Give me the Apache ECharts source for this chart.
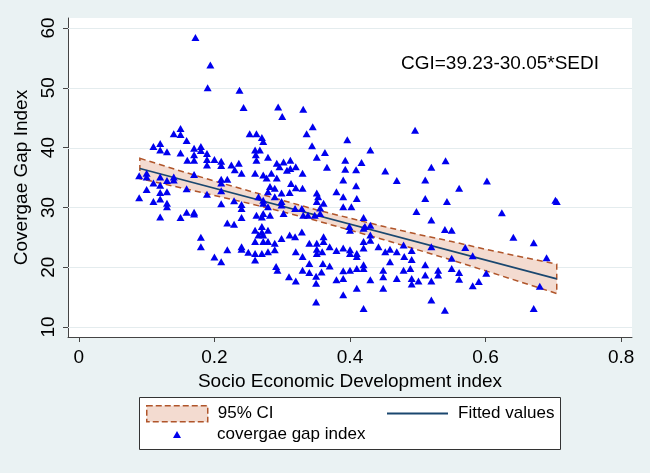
<!DOCTYPE html>
<html><head><meta charset="utf-8">
<script src="https://cdn.jsdelivr.net/npm/echarts@6/dist/echarts.min.js"></script>
<style>html,body{margin:0;padding:0;background:#eaf2f3}#c{width:650px;height:473px}</style>
</head><body><div id="c"></div><script>
// covergae gap index vs socio economic development index: [SEDI, CGI]
const gapPoints = [
[0.172,58.4],[0.194,53.8],[0.190,50.0],[0.237,49.6],[0.243,46.7],[0.150,43.2],[0.140,42.3],[0.150,42.2],[0.159,41.2],[0.110,40.2],
[0.120,40.7],[0.120,39.6],[0.130,39.3],[0.150,39.1],[0.170,39.9],[0.180,40.2],[0.180,39.5],[0.189,39.0],[0.170,38.8],[0.160,37.9],
[0.170,37.9],[0.189,38.0],[0.200,38.0],[0.210,37.7],[0.210,37.0],[0.189,37.1],[0.225,37.1],[0.236,37.4],[0.230,36.3],[0.240,35.7],
[0.170,35.5],[0.210,34.7],[0.219,34.7],[0.210,34.1],[0.210,32.8],[0.089,35.3],[0.100,35.7],[0.100,35.1],[0.140,35.1],[0.140,34.6],
[0.120,35.1],[0.130,34.5],[0.110,34.1],[0.120,33.7],[0.120,32.5],[0.120,31.4],[0.130,32.6],[0.100,33.0],[0.089,31.6],[0.159,33.1],
[0.110,31.0],[0.130,30.7],[0.130,30.1],[0.120,28.4],[0.150,28.3],[0.159,29.2],[0.170,29.2],[0.170,28.9],[0.180,25.0],[0.180,23.4],
[0.189,32.2],[0.200,21.7],[0.210,20.9],[0.210,30.6],[0.219,27.4],[0.219,22.9],[0.229,27.2],[0.229,31.1],[0.240,28.3],[0.240,29.8],
[0.240,30.5],[0.240,23.4],[0.240,23.0],[0.250,22.5],
[0.294,46.8],[0.300,45.2],[0.331,46.4],[0.345,43.5],[0.336,42.3],[0.496,42.9],[0.396,41.3],[0.344,40.3],[0.363,39.2],[0.430,39.6],
[0.351,38.4],[0.252,42.3],[0.262,42.3],[0.270,41.7],[0.272,41.0],[0.260,39.6],[0.267,39.6],[0.261,38.8],[0.279,38.4],[0.262,37.9],
[0.292,37.4],[0.302,37.6],[0.312,37.9],[0.296,36.8],[0.307,36.2],[0.312,36.5],[0.320,36.8],[0.260,35.7],[0.272,35.4],[0.277,34.9],
[0.284,35.7],[0.292,34.9],[0.330,35.7],[0.366,36.7],[0.393,37.9],[0.393,36.4],[0.409,36.3],[0.417,37.5],[0.390,34.6],[0.409,33.6],
[0.452,36.1],[0.469,34.5],[0.520,36.7],[0.541,37.8],[0.511,34.6],[0.313,34.0],[0.320,33.3],[0.330,33.2],[0.289,33.2],[0.289,31.8],
[0.299,32.4],[0.311,32.5],[0.299,31.0],[0.279,32.6],[0.282,33.5],[0.265,31.8],[0.272,31.2],[0.351,32.4],[0.353,31.8],[0.351,31.0],
[0.356,29.9],[0.361,30.7],[0.380,32.6],[0.390,31.8],[0.410,31.5],[0.390,30.1],[0.402,30.1],[0.319,29.8],[0.329,29.8],[0.338,28.7],
[0.331,28.7],[0.348,28.7],[0.272,30.7],[0.279,30.1],[0.272,29.0],[0.282,28.7],[0.270,28.4],[0.262,28.7],[0.302,29.0],[0.299,30.4],
[0.356,29.0],[0.420,28.3],[0.430,27.0],[0.422,26.8],[0.399,26.8],[0.400,26.2],[0.498,29.3],[0.520,27.9],[0.511,31.5],[0.543,31.0],
[0.540,26.3],[0.520,23.4],[0.511,20.4],[0.260,26.2],[0.270,26.8],[0.270,25.9],[0.279,26.2],[0.265,25.4],[0.272,25.4],[0.260,24.3],
[0.272,24.3],[0.279,24.3],[0.289,24.0],[0.299,24.8],[0.311,25.4],[0.329,25.9],[0.319,25.1],[0.260,22.3],[0.270,22.3],[0.279,22.6],
[0.289,22.9],[0.260,21.2],[0.320,22.6],[0.330,21.8],[0.340,24.0],[0.351,24.0],[0.351,23.0],[0.361,25.1],[0.361,24.3],[0.370,23.4],
[0.359,22.6],[0.351,22.3],[0.291,20.1],[0.293,19.5],[0.310,18.4],[0.320,17.7],[0.330,19.5],[0.340,20.6],[0.340,19.1],[0.350,18.5],
[0.358,19.2],[0.360,20.6],[0.370,20.2],[0.350,17.3],[0.350,14.2],[0.380,22.8],[0.390,23.2],[0.400,22.9],[0.400,22.3],[0.410,22.3],
[0.410,21.8],[0.420,24.3],[0.420,23.2],[0.430,24.5],[0.442,23.4],[0.452,22.6],[0.459,23.0],[0.469,22.6],[0.479,23.7],[0.480,21.8],
[0.491,21.3],[0.491,22.8],[0.430,25.4],[0.420,26.5],[0.400,19.5],[0.390,19.4],[0.390,18.1],[0.380,17.9],[0.410,19.8],[0.420,20.4],
[0.420,19.8],[0.430,17.9],[0.449,19.5],[0.449,18.4],[0.459,20.9],[0.469,18.1],[0.479,19.5],[0.489,19.8],[0.491,18.1],[0.491,17.2],
[0.501,17.7],[0.511,18.7],[0.520,17.7],[0.530,19.5],[0.390,15.4],[0.410,16.5],[0.420,13.1],[0.449,16.5],[0.520,14.5],[0.540,12.8],
[0.530,18.7],
[0.602,34.4],[0.561,33.2],[0.703,31.2],[0.705,31.0],[0.624,29.1],[0.550,26.2],[0.641,25.0],[0.671,24.1],[0.570,23.3],[0.581,21.9],
[0.690,21.6],[0.550,21.5],[0.550,19.8],[0.561,19.1],[0.561,18.0],[0.601,19.0],[0.590,17.6],[0.581,16.9],[0.680,16.8],[0.671,13.1]
];
// fitted values (linear fit)
const fitX = [0.09, 0.705];
const fitY = [36.5, 18.05];
// 95% confidence band
const ciX    = [0.09, 0.15, 0.20, 0.25, 0.30, 0.35, 0.40, 0.45, 0.50, 0.55, 0.60, 0.65, 0.705];
const ciHigh = [38.2, 36.1, 34.4, 32.8, 31.2, 29.6, 28.2, 26.8, 25.5, 24.3, 23.0, 21.8, 20.5];
const ciLow  = [34.8, 33.3, 32.0, 30.7, 29.3, 27.8, 26.2, 24.6, 22.9, 21.2, 19.4, 17.6, 15.6];
const xTicks = [0, 0.2, 0.4, 0.6, 0.8];
const yTicks = [10, 20, 30, 40, 50, 60];
const xTitle = 'Socio Economic Development index';
const yTitle = 'Covergae Gap Index';
const equation = 'CGI=39.23-30.05*SEDI';
const names = {ci: '95% CI', fit: 'Fitted values', pts: 'covergae gap index'};

const FONT = "'Liberation Sans', Arial, sans-serif";
const AX = '#444';
const chart = echarts.init(document.getElementById('c'), null, {renderer: 'canvas'});
chart.setOption({
  backgroundColor: '#eaf2f3',
  animation: false,
  textStyle: {fontFamily: FONT},
  grid: {left: 68, right: 18, top: 18, bottom: 136, show: true, backgroundColor: '#ffffff', borderWidth: 0},
  xAxis: {
    type: 'value', min: -0.016, max: 0.816,
    name: xTitle, nameLocation: 'middle', nameGap: 29,
    nameTextStyle: {fontSize: 19, color: '#000', fontFamily: FONT},
    axisLine: {show: true, onZero: false, lineStyle: {color: AX, width: 1}},
    axisTick: {show: true, length: 5, customValues: xTicks, lineStyle: {color: AX}},
    axisLabel: {customValues: xTicks, fontSize: 19, color: '#000', margin: 11, fontFamily: FONT,
      formatter: v => String(v)},
    splitLine: {show: false}
  },
  yAxis: {
    type: 'value', min: 8.33, max: 61.67,
    name: yTitle, nameLocation: 'middle', nameGap: 28, nameRotate: 90,
    nameTextStyle: {fontSize: 19, color: '#000', fontFamily: FONT},
    axisLine: {show: true, onZero: false, lineStyle: {color: AX, width: 1}},
    axisTick: {show: true, length: 5, customValues: yTicks, lineStyle: {color: AX}},
    axisLabel: {customValues: yTicks, fontSize: 19, color: '#000', margin: 10, rotate: 90, fontFamily: FONT},
    splitLine: {show: false}
  },
  legend: [
    {data: [{name: names.ci, icon: 'rect', itemStyle: {color: '#f3dbd0', borderColor: '#b0552a', borderWidth: 1.5, borderType: 'dashed'}}],
     left: 146, top: 405, padding: 0, itemWidth: 61, itemHeight: 16, selectedMode: false,
     textStyle: {fontSize: 17, color: '#000', fontFamily: FONT, padding: [0, 0, 0, 5]}},
    {data: [{name: names.fit, icon: 'rect', itemStyle: {color: '#1a476f', borderWidth: 0}}], left: 387, top: 405, padding: 0, itemWidth: 61, itemHeight: 2, selectedMode: false,
     textStyle: {fontSize: 17, color: '#000', fontFamily: FONT, padding: [0, 0, 0, 5]}},
    {data: [{name: names.pts, icon: 'triangle'}], left: 173, top: 426, padding: 0, itemWidth: 8, itemHeight: 7, selectedMode: false,
     textStyle: {fontSize: 17, color: '#000', fontFamily: FONT, padding: [0, 0, 0, 31]}}
  ],
  graphic: [
    {type: 'rect', z: 0, shape: {x: 139.5, y: 397.5, width: 421, height: 52}, style: {fill: '#ffffff', stroke: '#333', lineWidth: 1}},
    {type: 'text', z: 10, x: 401, y: 64, style: {text: equation, fontSize: 19, fontFamily: FONT, fill: '#000', verticalAlign: 'middle'}}
  ],
  series: [
    {type: 'custom', name: 'grid', z: 1, silent: true, data: yTicks.map(v => [0, v]), encode: {x: 0, y: 1},
     renderItem: function (params, api) {
       const cs = params.coordSys;
       const y = Math.round(api.coord([0, api.value(1)])[1]) + 0.5;
       return {type: 'line', shape: {x1: cs.x, y1: y, x2: cs.x + cs.width, y2: y}, style: {stroke: '#e4ecee', lineWidth: 1}};
     }},
    {type: 'custom', name: names.ci, z: 2, silent: true,
     data: ciX.map((x, i) => [x, ciLow[i], ciHigh[i]]), encode: {x: 0, y: [1, 2]},
     renderItem: function (params, api) {
       if (params.dataIndex !== 0) return null;
       const up = ciX.map((x, i) => api.coord([x, ciHigh[i]]));
       const lo = ciX.map((x, i) => api.coord([x, ciLow[i]])).reverse();
       return {type: 'polygon', shape: {points: up.concat(lo)},
               style: {fill: '#f3dbd0', stroke: '#b0552a', lineWidth: 1.5, lineDash: [6, 4]}};
     }},
    {type: 'line', name: names.fit, z: 3, symbol: 'none', silent: true,
     data: fitX.map((x, i) => [x, fitY[i]]),
     lineStyle: {color: '#1a476f', width: 1.6}, itemStyle: {color: '#1a476f'}},
    {type: 'scatter', name: names.pts, z: 4, silent: true, symbol: 'triangle', symbolSize: [8, 7],
     data: gapPoints, itemStyle: {color: '#0000ee', opacity: 1}}
  ]
});
</script></body></html>
